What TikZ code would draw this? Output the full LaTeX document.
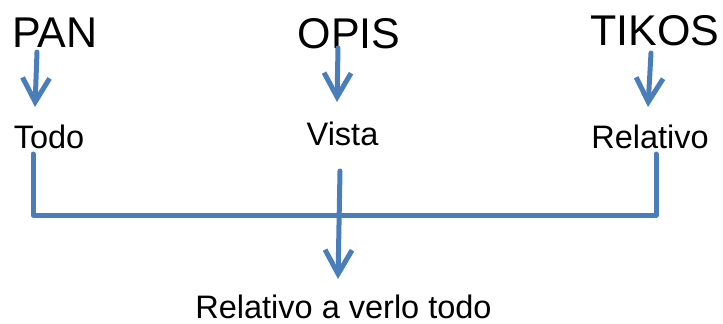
\documentclass[tikz,border=0pt]{standalone}
\usepackage{fontspec}
\setmainfont{Liberation Sans}
\usetikzlibrary{arrows.meta}
\begin{document}
\begin{tikzpicture}[x=1pt, y=-1pt,
  big/.style={inner sep=0pt, anchor=base, font=\fontsize{43}{51}\selectfont},
  small/.style={inner sep=0pt, anchor=base, font=\fontsize{32.5}{39}\selectfont},
  link/.style={draw=col, line width=5pt, line cap=round, line join=round},
  down/.style={link, -{Straight Barb[length=24pt, width=27pt]}}]
\definecolor{col}{HTML}{4A7EBB}
\useasboundingbox (0,0) rectangle (723,324);
% words
\node[big] (pan) at (54.7, 47) {PAN};
\node[big] (opis) at (349, 48) {OPIS};
\node[big] (tikos) at (655, 45) {TIKOS};
\node[small] (todo) at (49, 148) {Todo};
\node[small] (vista) at (342.5, 145) {Vista};
\node[small] (relativo) at (650, 148) {Relativo};
\node[small] (total) at (343.5, 318) {Relativo a verlo todo};
% arrow ends
\coordinate (panA) at (37, 52); \coordinate (panB) at (35, 107);
\coordinate (opisA) at (338, 48); \coordinate (opisB) at (337, 102);
\coordinate (tikosA) at (651, 53); \coordinate (tikosB) at (648, 107);
\coordinate (leftTop) at (33, 154); \coordinate (leftBot) at (33, 215);
\coordinate (rightTop) at (656, 154); \coordinate (rightBot) at (656, 215);
\coordinate (midA) at (340, 171); \coordinate (midB) at (338, 279);
\draw[down] (panA) -- (panB);
\draw[down] (opisA) -- (opisB);
\draw[down] (tikosA) -- (tikosB);
\draw[link] (leftTop) -- (leftBot) -- (rightBot) -- (rightTop);
\draw[down] (midA) -- (midB);
\end{tikzpicture}
\end{document}
